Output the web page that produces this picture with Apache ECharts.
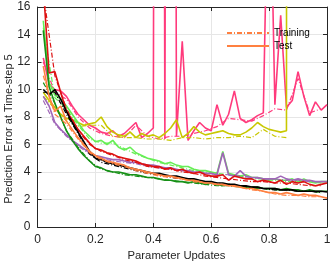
<!DOCTYPE html>
<html><head><meta charset="utf-8">
<script src="https://cdn.jsdelivr.net/npm/echarts@6/dist/echarts.min.js"></script>
<style>html,body{margin:0;padding:0;background:#fff}#c{width:336px;height:263px}</style>
</head><body><div id="c"></div>
<script>
// x positions (parameter updates, normalised)
const xs = [0.02,0.04,0.06,0.08,0.10,0.12,0.14,0.16,0.18,0.20,
            0.22,0.24,0.26,0.28,0.30,0.32,0.34,0.36,0.38,0.40,
            0.42,0.44,0.46,0.48,0.50,0.52,0.54,0.56,0.58,0.60,
            0.62,0.64,0.66,0.68,0.70,0.72,0.74,0.76,0.78,0.80,
            0.82,0.84,0.86,0.88,0.90,0.92,0.94,0.96,0.98,1.00];
const xsTrain = [0.02,0.06,0.10,0.14,0.18,0.22,0.26,0.30,0.34,0.38,0.42,0.46,0.50,
                 0.54,0.58,0.62,0.66,0.70,0.74,0.78,0.82,0.86,0.90,0.94,0.98];
const xTicks = [0,0.2,0.4,0.6,0.8,1];
const yTicks = [0,2,4,6,8,10,12,14,16];

// Test error curves
const redTest = [17.5,11.2,11.3,9.8,8.4,7.8,7.1,6.6,6.1,5.7, 5.6,5.4,5.3,5.1,5.0,4.9,4.8,4.6,4.5,4.4, 4.4,4.2,4.3,4.1,4.2,4.0,3.9,4.0,3.8,3.7, 3.7,3.8,3.4,3.7,3.6,3.5,3.5,3.3,3.4,3.3, 3.2,3.4,3.1,3.3,3.2,3.3,3.1,3.0,3.1,3.2];
const lgreenTest = [15.0,10.5,9.6,9.3,8.8,8.2,7.6,7.0,6.6,6.2, 6.3,6.0,6.3,5.8,5.6,5.8,5.4,5.2,5.0,4.9, 4.8,4.6,4.7,4.5,4.4,4.4,4.2,4.1,4.1,4.0, 3.9,5.5,3.9,3.8,3.7,3.8,3.6,3.6,3.5,3.4, 3.5,3.4,3.4,3.5,3.3,3.5,3.3,3.2,3.3,3.3];
const dgreenTest = [14.3,10.2,9.0,8.0,7.0,6.3,5.7,5.2,4.8,4.4, 4.3,4.1,4.0,4.0,3.9,3.8,3.8,3.7,3.6,3.6, 3.5,3.4,3.4,3.3,3.3,3.2,3.3,3.2,3.1,3.2, 3.1,3.0,3.1,3.0,3.0,2.9,2.9,2.9,2.8,2.8, 2.8,2.7,2.8,2.7,2.7,2.6,2.7,2.6,2.6,2.6];
const blackTest = [10.0,9.6,10.0,9.3,8.4,7.6,6.9,6.2,5.5,5.0, 4.9,4.7,4.6,4.5,4.4,4.3,4.2,4.1,4.0,3.9, 3.9,3.8,3.7,3.7,3.6,3.5,3.5,3.4,3.3,3.3, 3.2,3.2,3.1,3.1,3.0,3.0,2.9,2.9,2.8,2.8, 2.8,2.7,2.7,2.7,2.6,2.6,2.6,2.6,2.6,2.55];
const orangeTest = [11.7,9.5,8.4,8.8,7.7,7.1,6.5,6.0,5.5,5.2, 5.0,4.8,4.7,4.6,4.5,4.3,4.2,4.1,4.0,3.9, 3.8,3.7,3.7,3.6,3.5,3.4,3.4,3.3,3.2,3.2, 3.1,3.1,3.0,3.0,2.9,2.8,2.8,2.7,2.6,2.5, 2.5,2.4,2.5,2.4,2.3,2.4,2.3,2.3,2.2,2.1];
const purpleTest = [9.5,8.8,7.6,7.1,6.7,6.3,6.0,5.7,5.4,5.2, 5.1,5.0,4.9,4.9,4.8,4.7,4.7,4.6,4.5,4.5, 4.4,4.3,4.3,4.2,4.1,4.1,4.0,4.0,3.9,3.9, 3.8,5.4,3.8,3.7,4.1,3.7,3.6,3.6,3.5,3.5, 3.5,3.7,3.5,3.4,3.5,3.4,3.4,3.3,3.3,3.3];
const pinkTest = [12.3,10.4,10.0,9.9,9.5,8.8,8.2,7.8,7.4,7.2, 6.9,6.8,7.0,6.6,6.8,7.2,7.6,6.5,6.8,7.2, 200,6.4,200,6.6,13.5,6.3,7.0,7.6,7.2,7.0, 8.9,7.4,8.2,9.9,7.9,7.6,7.8,8.1,8.3,30, 8.9,15.4,8.7,9.2,11.3,9.5,8.1,9.1,8.5,8.9];
const yellowTest = [9.8,9.2,8.7,8.2,7.9,7.8,7.6,7.4,7.5,7.6, 8.0,7.3,6.9,6.7,6.6,6.9,6.5,6.8,6.6,6.7, 6.5,6.8,7.2,7.8,6.5,6.8,7.3,6.9,6.7,6.8, 6.9,7.0,6.8,6.7,6.7,6.9,7.2,7.6,7.3,7.1, 7.0,6.9,7.0,1000,null,null,null,null,null,null];

// Training error curves
const redTrain = [17.0,11.0,8.6,7.0,6.0,5.5,5.2,4.9,4.7,4.4,4.3,4.2,4.0,3.9,3.7,3.6,3.5,3.4,3.3,3.3,3.2,3.2,3.1,3.0,3.0];
const lgreenTrain = [14.5,9.4,8.6,7.4,6.4,6.1,6.1,5.7,5.3,5.0,4.7,4.5,4.3,4.1,4.0,3.9,3.8,3.7,3.5,3.5,3.4,3.3,3.3,3.3,3.2];
const dgreenTrain = [10.5,9.0,7.0,5.8,4.8,4.2,4.0,3.8,3.7,3.6,3.5,3.4,3.3,3.2,3.1,3.0,3.0,2.9,2.8,2.8,2.7,2.7,2.6,2.6,2.5];
const blackTrain = [9.8,9.8,8.2,6.8,5.3,4.7,4.5,4.3,4.1,3.9,3.8,3.6,3.5,3.4,3.3,3.2,3.1,3.0,2.9,2.8,2.7,2.7,2.6,2.6,2.5];
const orangeTrain = [11.0,8.2,7.5,6.4,5.4,4.9,4.6,4.4,4.1,3.9,3.7,3.6,3.5,3.3,3.2,3.1,3.0,2.9,2.7,2.6,2.4,2.3,2.3,2.2,2.2];
const purpleTrain = [9.2,7.5,6.6,5.9,5.3,5.0,4.8,4.7,4.6,4.4,4.3,4.2,4.1,4.0,3.9,3.8,3.8,3.7,3.6,3.5,3.5,3.4,3.4,3.3,3.3];
const pinkTrain = [12.0,9.8,9.3,8.0,7.2,6.8,6.6,6.5,7.4,6.6,6.4,6.6,6.6,6.8,7.0,7.3,7.9,7.8,7.7,8.1,8.6,8.5,10.8,8.3,8.6];
const yellowTrain = [9.5,8.6,7.7,7.3,7.4,7.4,6.6,6.5,6.5,6.4,6.4,6.3,6.5,6.5,6.4,6.5,6.5,6.6,6.5,7.1,6.6,6.5,null,null,null];

const runs = [
  {c:'#ff3a7c', test:pinkTest, train:pinkTrain},
  {c:'#c8c800', test:yellowTest, train:yellowTrain},
  {c:'#66ee55', test:lgreenTest, train:lgreenTrain},
  {c:'#a066b8', test:purpleTest, train:purpleTrain},
  {c:'#dd1111', test:redTest, train:redTrain},
  {c:'#169016', test:dgreenTest, train:dgreenTrain},
  {c:'#000000', test:blackTest, train:blackTrain},
  {c:'#ff8040', test:orangeTest, train:orangeTrain}
];
const dashDot = [5,2,1,2];
const series = [];
runs.forEach(r => {
  series.push({type:'line', showSymbol:false, symbol:'none', silent:true, animation:false,
    data: xsTrain.map((x,i)=>[x, r.train[i]]),
    lineStyle:{color:r.c, width:1.2, type:dashDot}});
  series.push({type:'line', showSymbol:false, symbol:'none', silent:true, animation:false,
    data: xs.map((x,i)=>[x, r.test[i]]),
    lineStyle:{color:r.c, width:1.6}});
});
series.push({name:'Training', type:'line', data:[], symbol:'none', showSymbol:false, color:'#ff8040', lineStyle:{color:'#ff8040', width:1.4, type:dashDot}});
series.push({name:'Test', type:'line', data:[], symbol:'none', showSymbol:false, color:'#ff8040', lineStyle:{color:'#ff8040', width:1.6}});

const axCol = '#262626';
const font = 'Liberation Sans, Arial, sans-serif';
const chart = echarts.init(document.getElementById('c'), null, {renderer:'canvas'});
chart.setOption({
  animation:false,
  backgroundColor:'#fff',
  grid:{left:37.5, right:9, top:7, bottom:36, containLabel:false},
  legend:{orient:'vertical', left:221, top:23, itemWidth:42, itemHeight:10, itemGap:3,
    data:[{name:'Training', itemStyle:{opacity:0}}, {name:'Test', itemStyle:{opacity:0}}],
    itemStyle:{opacity:0},
    textStyle:{fontFamily:font, fontSize:10, color:'#000'}},
  xAxis:[
    {type:'value', min:0, max:1, interval:0.2, position:'bottom',
     axisLine:{show:true, onZero:false, lineStyle:{color:axCol, width:1}},
     axisTick:{show:true, inside:true, length:4, lineStyle:{color:axCol}},
     axisLabel:{fontFamily:font, fontSize:12, color:axCol, margin:7,
       formatter:v=>xTicks.includes(+v.toFixed(2)) ? String(+v.toFixed(2)) : ''},
     splitLine:{show:true, lineStyle:{color:'#e6e6e6', width:1}}},
    {type:'value', min:0, max:1, interval:0.2, position:'top',
     axisLine:{show:true, onZero:false, lineStyle:{color:axCol, width:1}},
     axisTick:{show:true, inside:true, length:4, lineStyle:{color:axCol}},
     axisLabel:{show:false}, splitLine:{show:false}}
  ],
  yAxis:[
    {type:'value', min:0, max:16, interval:2, position:'left',
     axisLine:{show:true, onZero:false, lineStyle:{color:axCol, width:1}},
     axisTick:{show:true, inside:true, length:4, lineStyle:{color:axCol}},
     axisLabel:{fontFamily:font, fontSize:12, color:axCol, margin:7,
       formatter:v=>yTicks.includes(v) ? String(v) : ''},
     splitLine:{show:true, lineStyle:{color:'#e6e6e6', width:1}}},
    {type:'value', min:0, max:16, interval:2, position:'right',
     axisLine:{show:true, onZero:false, lineStyle:{color:axCol, width:1}},
     axisTick:{show:true, inside:true, length:4, lineStyle:{color:axCol}},
     axisLabel:{show:false}, splitLine:{show:false}}
  ],
  graphic:[
    {type:'text', x:176.5, y:256, style:{text:'Parameter Updates', font:'11.3px '+font, fill:axCol, align:'center', verticalAlign:'middle'}},
    {type:'text', x:8.5, y:129, rotation:Math.PI/2, style:{text:'Prediction Error at Time-step 5', font:'11px '+font, fill:axCol, align:'center', verticalAlign:'middle'}}
  ],
  series: series
});
</script></body></html>
